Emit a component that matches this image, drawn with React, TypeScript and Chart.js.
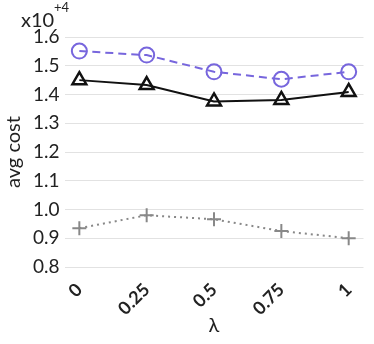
import React, { useEffect, useRef } from "react";
import { Chart, registerables } from "chart.js";

Chart.register(...registerables);

const lambdas = [0, 0.25, 0.5, 0.75, 1];
const tickLabels = ["0", "0.25", "0.5", "0.75", "1"];
const circleSeries = [1.551, 1.537, 1.479, 1.453, 1.479];
const triangleSeries = [1.45, 1.433, 1.376, 1.381, 1.409];
const plusSeries = [0.935, 0.98, 0.966, 0.925, 0.9];

const FONT = "Lato, 'Open Sans', sans-serif";

const exponentPlugin = {
  id: "exponent",
  afterDraw(chart: any) {
    const ctx = chart.ctx;
    ctx.save();
    ctx.fillStyle = "#222";
    ctx.textBaseline = "alphabetic";
    ctx.textAlign = "left";
    ctx.font = `20px ${FONT}`;
    ctx.fillText("x10", 21, 27);
    ctx.font = `13px ${FONT}`;
    ctx.fillText("+4", 54, 12);
    ctx.restore();
  },
};

export default function App() {
  const ref = useRef<HTMLCanvasElement>(null);
  useEffect(() => {
    if (!ref.current) return;
    const toPts = (arr: number[]) => arr.map((v, i) => ({ x: lambdas[i], y: v }));
    const chart = new Chart(ref.current, {
      type: "line",
      data: {
        datasets: [
          {
            data: toPts(circleSeries),
            borderColor: "#7766dd",
            backgroundColor: "rgba(255,255,255,0)",
            borderWidth: 2,
            borderDash: [8, 5],
            pointStyle: "circle",
            pointRadius: 7.5,
            pointBorderWidth: 2,
            pointBorderColor: "#7766dd",
            pointBackgroundColor: "rgba(255,255,255,0)",
          },
          {
            data: toPts(triangleSeries),
            borderColor: "#111",
            borderWidth: 2,
            pointStyle: "triangle",
            pointRadius: 8,
            pointBorderWidth: 2.5,
            pointBorderColor: "#111",
            pointBackgroundColor: "rgba(255,255,255,0)",
          },
          {
            data: toPts(plusSeries),
            borderColor: "#888",
            borderWidth: 2,
            borderDash: [2, 4],
            pointStyle: "cross",
            pointRadius: 7,
            pointBorderWidth: 2,
            pointBorderColor: "#888",
            pointBackgroundColor: "#888",
          },
        ],
      },
      options: {
        responsive: false,
        animation: false,
        layout: { padding: { top: 37, right: 4, left: 2, bottom: 0 } },
        plugins: { legend: { display: false }, tooltip: { enabled: false } },
        scales: {
          x: {
            type: "linear",
            min: -0.055,
            max: 1.055,
            afterBuildTicks: (axis: any) => {
              axis.ticks = lambdas.map((v) => ({ value: v }));
            },
            afterFit: (axis: any) => {
              axis.height = 77;
            },
            grid: { display: false },
            border: { display: false },
            ticks: {
              autoSkip: false,
              maxRotation: 45,
              minRotation: 45,
              color: "#222",
              padding: 4,
              font: { family: FONT, size: 18, weight: "bold" },
              callback: (v: any) => {
                const i = lambdas.indexOf(Number(v));
                return i >= 0 ? tickLabels[i] : "";
              },
            },
            title: {
              display: true,
              text: "λ",
              color: "#222",
              font: { family: FONT, size: 20 },
              padding: { top: 0, bottom: 6 },
            },
          },
          y: {
            min: 0.8,
            max: 1.6,
            border: { display: false },
            grid: { color: "#e2e2e2", lineWidth: 1, drawTicks: false },
            ticks: {
              stepSize: 0.1,
              color: "#222",
              padding: 5,
              font: { family: FONT, size: 19 },
              callback: (v: any) => Number(v).toFixed(1),
            },
            title: {
              display: true,
              text: "avg cost",
              color: "#222",
              font: { family: FONT, size: 20 },
              padding: { top: 0, bottom: 2 },
            },
          },
        },
      },
      plugins: [exponentPlugin],
    });
    return () => chart.destroy();
  }, []);
  return (
    <div style={{ position: "fixed", left: 0, top: 0, width: 374, height: 344, background: "#fff" }}>
      <canvas ref={ref} width={374} height={344} />
    </div>
  );
}
